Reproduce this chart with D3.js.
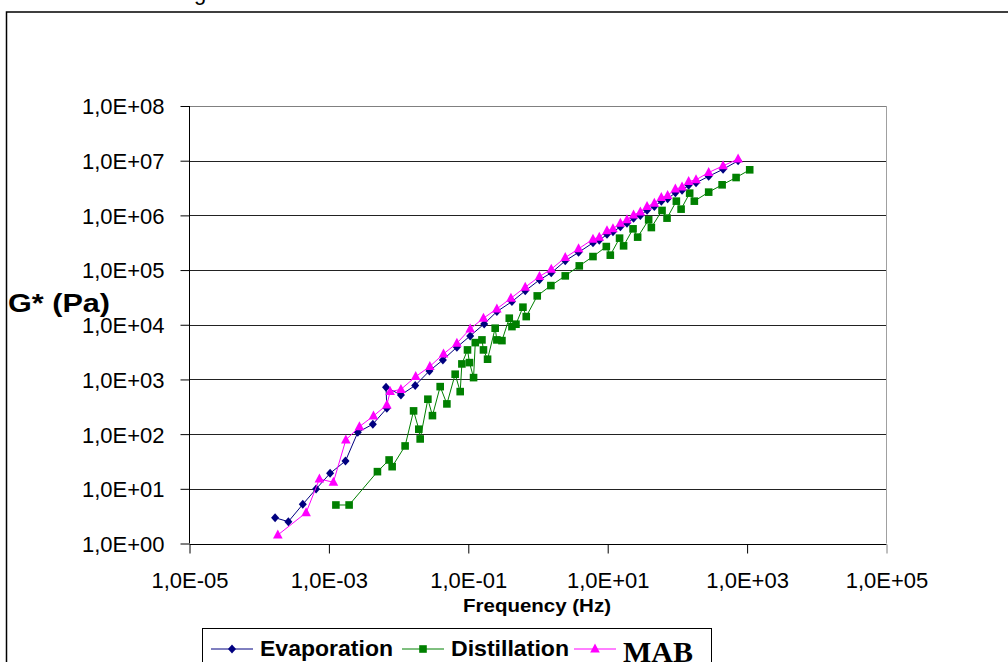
<!DOCTYPE html>
<html>
<head>
<meta charset="utf-8">
<script src="https://cdn.jsdelivr.net/npm/d3@7"></script>
<style>
  body { margin: 0; background: #fff; }
  svg { display: block; }
  .tick-label { font-family: Arial, "Liberation Sans", sans-serif; font-size: 22px; fill: #000; }
</style>
</head>
<body>
<script>
// tick labels
var xTickValues = [1e-5, 1e-3, 1e-1, 1e1, 1e3, 1e5];
var xTickLabels = ["1,0E-05", "1,0E-03", "1,0E-01", "1,0E+01", "1,0E+03", "1,0E+05"];
var yTickValues = [1e0, 1e1, 1e2, 1e3, 1e4, 1e5, 1e6, 1e7, 1e8];
var yTickLabels = ["1,0E+00", "1,0E+01", "1,0E+02", "1,0E+03", "1,0E+04", "1,0E+05", "1,0E+06", "1,0E+07", "1,0E+08"];

var seriesNames = ["Evaporation", "Distillation", "MAB"];

// Evaporation
var evapFreq = [1.69e-4, 2.62e-4, 4.22e-4, 6.55e-4, 1.04e-3, 1.73e-3, 2.60e-3, 4.27e-3, 6.78e-3, 6.6e-3,
                1.08e-2, 1.73e-2, 2.77e-2, 4.32e-2, 6.86e-2, 0.1065, 0.169, 0.257, 0.423, 0.656,
                1.05, 1.55, 2.46, 3.82, 6.15, 7.57, 9.77, 11.9, 15.2, 18.9,
                23.5, 29.4, 36.7, 46.7, 58.8, 72.4, 93.5, 116.6, 145, 185,
                281, 452, 743];
var evapG = [2.96, 2.51, 5.21, 9.93, 19.2, 32.3, 108, 152, 297, 721,
             521, 777, 1432, 2276, 3886, 6255, 10370, 17410, 26530, 41650,
             66190, 88900, 147300, 210800, 314600, 349400, 449900, 499900, 617000, 715000,
             883000, 1.00e6, 1.24e6, 1.46e6, 1.81e6, 2.01e6, 2.59e6, 2.87e6, 3.55e6, 3.94e6,
             5.18e6, 6.96e6, 9.95e6];

// Distillation
var distFreq = [1.26e-3, 1.95e-3, 4.97e-3, 7.31e-3, 8.08e-3, 1.24e-2, 1.64e-2, 1.95e-2, 2.04e-2, 2.63e-2,
                3.06e-2, 3.95e-2, 4.93e-2, 6.48e-2, 7.65e-2, 8.09e-2, 9.74e-2, 0.104, 0.119, 0.126,
                0.157, 0.165, 0.189, 0.243, 0.257, 0.304, 0.387, 0.423, 0.483, 0.608,
                0.678, 0.975, 1.53, 2.46, 3.91, 6.15, 9.55, 10.9, 14.8, 16.9,
                23.1, 26.9, 38.7, 42.3, 60.2, 71.0, 96.6, 113, 150, 175,
                281, 438, 695, 1090];
var distG = [5.06, 5.06, 20.6, 33.7, 25.4, 60.8, 266, 123, 81.6, 435,
             218, 739, 357, 1246, 599, 1922, 3467, 2032, 1080, 4716,
             5284, 3467, 2344, 8650, 5284, 5130, 13180, 9255, 10240, 20950,
             14100, 33700, 52050, 78300, 119300, 176600, 269000, 187300, 383300, 277200,
             567300, 400000, 828500, 599000, 1.23e6, 890000, 1.82e6, 1.30e6, 2.55e6, 1.82e6,
             2.66e6, 3.62e6, 4.92e6, 6.81e6];

// MAB
var mabFreq = [1.85e-4, 4.71e-4, 7.31e-4, 1.16e-3, 1.75e-3, 2.74e-3, 4.36e-3, 6.78e-3, 7.56e-3, 1.08e-2,
               1.76e-2, 2.81e-2, 4.41e-2, 6.86e-2, 0.1065, 0.165, 0.257, 0.409, 0.656, 1.05,
               1.55, 2.46, 3.82, 6.15, 7.57, 9.77, 11.9, 15.2, 18.9, 23.5,
               29.4, 36.7, 46.7, 58.8, 72.4, 93.5, 116.6, 145, 185, 281,
               452, 743];
var mabG = [1.43, 3.66, 15.1, 13.2, 78.3, 137, 215, 342, 599, 657,
            1126, 1730, 2931, 4598, 8403, 13180, 19510, 30600, 48660, 76030,
            103900, 169300, 244200, 367600, 399900, 521500, 567300, 721100, 828500, 1.02e6,
            1.15e6, 1.45e6, 1.67e6, 2.12e6, 2.31e6, 3.02e6, 3.29e6, 4.16e6, 4.47e6, 6.08e6,
            8.06e6, 1.07e7];

var svgW = 1008, svgH = 662;
var plotL = 189.5, plotR = 886.5, plotT = 106, plotB = 543.5;

var svg = d3.select("body").append("svg")
            .attr("width", svgW)
            .attr("height", svgH);

// title fragment cut off at the top
svg.append("text")
   .attr("x", 194).attr("y", 0)
   .attr("font-family", "Arial, sans-serif")
   .attr("font-size", 22)
   .text("g");

// outer chart border (cut off on the right and bottom)
svg.append("rect")
   .attr("x", 6.5).attr("y", 12)
   .attr("width", 1100).attr("height", 700)
   .attr("fill", "none")
   .attr("stroke", "#000")
   .attr("stroke-width", 1.5);

var xScale = d3.scaleLog().domain([1e-5, 1e5]).range([plotL, plotR]);
var yScale = d3.scaleLog().domain([1e0, 1e8]).range([plotB, plotT]);

// gridlines
svg.append("g").selectAll("line")
   .data(yTickValues.slice(1))
   .enter().append("line")
   .attr("x1", plotL).attr("x2", plotR)
   .attr("y1", function(d) { return Math.round(yScale(d)) + 0.5; })
   .attr("y2", function(d) { return Math.round(yScale(d)) + 0.5; })
   .attr("stroke", function(d) { return d == 1e8 ? "#808080" : "#222"; })
   .attr("stroke-width", 1);

// right border of plot area
svg.append("line")
   .attr("x1", 886.5).attr("x2", 886.5)
   .attr("y1", plotT).attr("y2", plotB)
   .attr("stroke", "#a0a0a0").attr("stroke-width", 1);

// axes
var xAxis = d3.axisBottom(xScale)
              .tickValues(xTickValues)
              .tickSize(9)
              .tickPadding(10)
              .tickFormat(function(d, i) { return xTickLabels[i]; });

var yAxis = d3.axisLeft(yScale)
              .tickValues(yTickValues)
              .tickSize(9)
              .tickPadding(16)
              .tickFormat(function(d, i) { return yTickLabels[i]; });

var gx = svg.append("g")
            .attr("transform", "translate(0," + (Math.round(plotB) + 0.5) + ")")
            .call(xAxis);
gx.select(".domain").attr("stroke", "#000").attr("d", "M" + plotL + ",0H" + plotR);
gx.selectAll(".tick line").attr("stroke", function(d) { return d == 1e5 ? "#808080" : "#000"; });
gx.selectAll(".tick text")
  .attr("class", "tick-label")
  .attr("font-family", null).attr("font-size", null)
  .attr("y", 28);

var gy = svg.append("g")
            .attr("transform", "translate(" + plotL + ",0)")
            .call(yAxis);
gy.select(".domain").attr("stroke", "#000").attr("d", "M0," + plotT + "V" + plotB);
gy.selectAll(".tick line").attr("stroke", "#000");
gy.selectAll(".tick text")
  .attr("class", "tick-label")
  .attr("font-family", null).attr("font-size", null)
  .attr("dy", "0.36em");

// axis titles
svg.append("text")
   .attr("x", 537).attr("y", 612)
   .attr("text-anchor", "middle")
   .attr("font-family", "Arial, sans-serif")
   .attr("font-weight", "bold")
   .attr("font-size", 18)
   .attr("textLength", 148).attr("lengthAdjust", "spacingAndGlyphs")
   .text("Frequency (Hz)");

svg.append("text")
   .attr("x", 8).attr("y", 312)
   .attr("font-family", "Arial, sans-serif")
   .attr("font-weight", "bold")
   .attr("font-size", 25)
   .attr("textLength", 102).attr("lengthAdjust", "spacingAndGlyphs")
   .text("G* (Pa)");

// marker shapes
var markerPath = {
  diamond: "M0,-4.5L4,0L0,4.5L-4,0Z",
  square: "M-3.8,-3.8H3.8V3.8H-3.8Z",
  triangle: "M0,-5.5L4.8,3.5H-4.8Z"
};

var series = [
  { name: seriesNames[0], freq: evapFreq, g: evapG, color: "#000080", marker: "diamond" },
  { name: seriesNames[1], freq: distFreq, g: distG, color: "#008000", marker: "square" },
  { name: seriesNames[2], freq: mabFreq, g: mabG, color: "#FF00FF", marker: "triangle" }
];

var line = d3.line()
             .x(function(d) { return xScale(d[0]); })
             .y(function(d) { return yScale(d[1]); });

series.forEach(function(s) {
  var pts = s.freq.map(function(f, i) { return [f, s.g[i]]; });
  var g = svg.append("g").attr("class", "serie");
  g.append("path")
   .attr("d", line(pts))
   .attr("fill", "none")
   .attr("stroke", s.color)
   .attr("stroke-width", 1);
  g.selectAll("path.mk")
   .data(pts)
   .enter().append("path")
   .attr("class", "mk")
   .attr("d", markerPath[s.marker])
   .attr("transform", function(d) { return "translate(" + xScale(d[0]) + "," + yScale(d[1]) + ")"; })
   .attr("fill", s.color);
});

// legend
var legend = svg.append("g");
legend.append("rect")
      .attr("x", 202.5).attr("y", 628.5)
      .attr("width", 509).attr("height", 60)
      .attr("fill", "#fff")
      .attr("stroke", "#000").attr("stroke-width", 1);

var legendX = [211, 402, 574];
var legendTextW = [133, 118, 70];
series.forEach(function(s, i) {
  var lx = legendX[i];
  legend.append("line")
        .attr("x1", lx).attr("x2", lx + 42)
        .attr("y1", 649).attr("y2", 649)
        .attr("stroke", s.color).attr("stroke-width", 1);
  legend.append("path")
        .attr("d", markerPath[s.marker])
        .attr("transform", "translate(" + (lx + 21) + ",649)")
        .attr("fill", s.color);
  legend.append("text")
        .attr("x", lx + 49)
        .attr("y", i == 2 ? 662 : 656)
        .attr("font-family", i == 2 ? "'Liberation Serif', 'Times New Roman', serif" : "Arial, sans-serif")
        .attr("font-weight", "bold")
        .attr("font-size", i == 2 ? 30 : 22)
        .attr("textLength", legendTextW[i]).attr("lengthAdjust", "spacingAndGlyphs")
        .text(s.name);
});
</script>
</body>
</html>
